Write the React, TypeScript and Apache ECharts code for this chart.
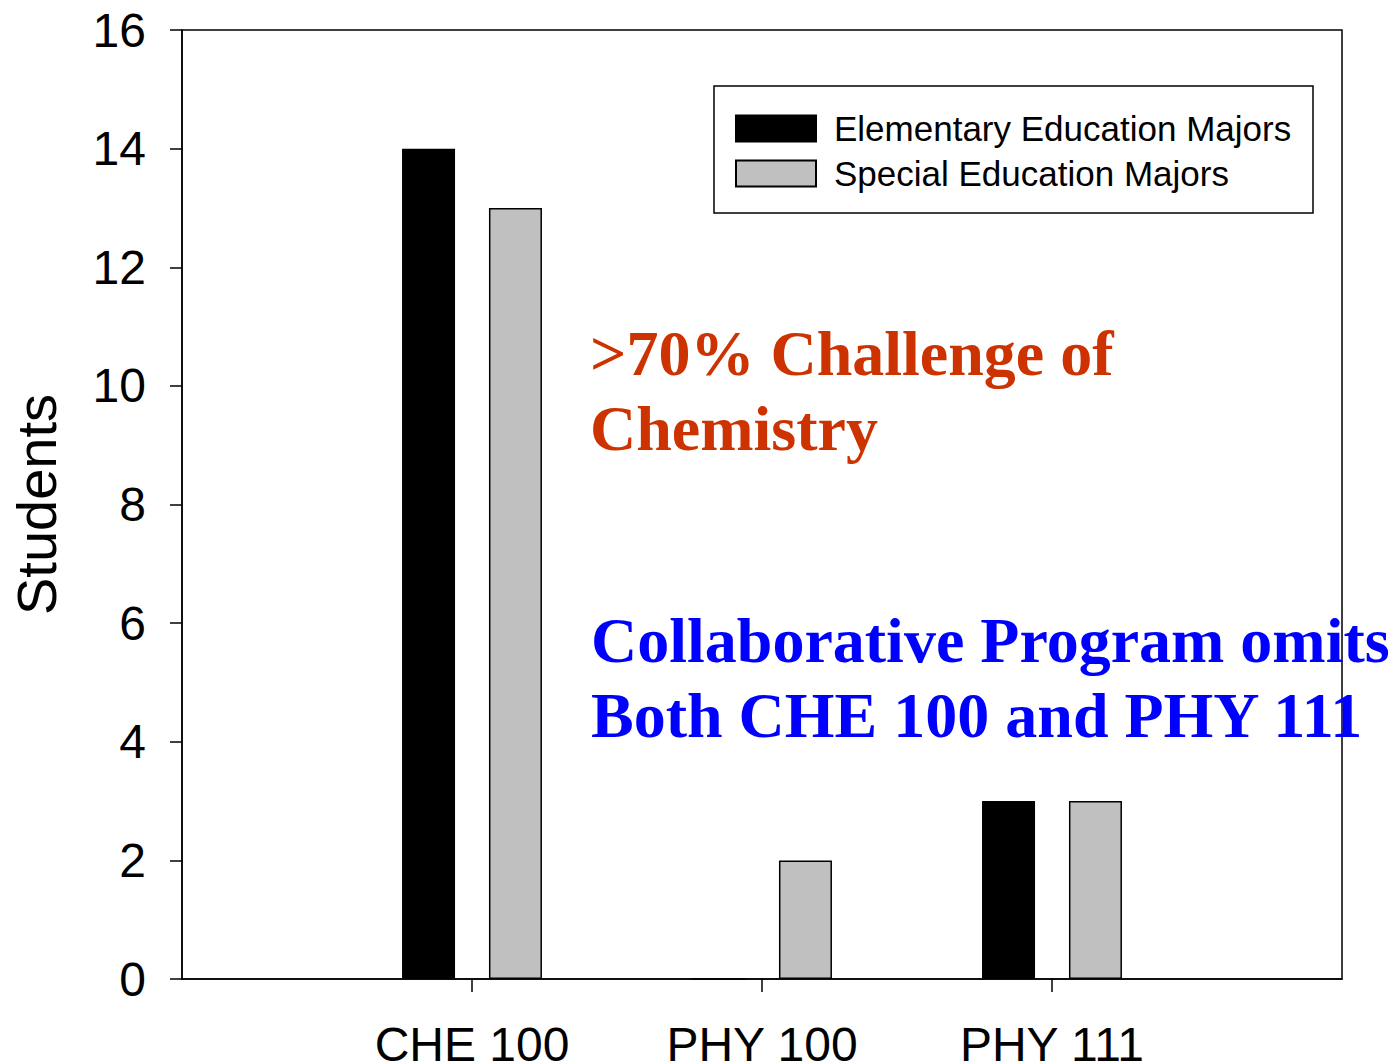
import React, { useEffect, useRef } from "react";
import * as echarts from "echarts";

const COURSES = ["CHE 100", "PHY 100", "PHY 111"];
const SERIES_NAMES = ["Elementary Education Majors", "Special Education Majors"];
const ELEMENTARY = [14, 0, 3];
const SPECIAL = [13, 2, 3];
const Y_TICKS = { min: 0, max: 16, interval: 2 };
const NOTE_RED = ">70% Challenge of\nChemistry";
const NOTE_BLUE = "Collaborative Program omits\nBoth CHE 100 and PHY 111";

const SANS = "'Liberation Sans', Arial, Helvetica, sans-serif";
const SERIF = "'Liberation Serif', 'Times New Roman', serif";

export default function App() {
  const ref = useRef<HTMLDivElement>(null);
  useEffect(() => {
    if (!ref.current) return;
    const chart = echarts.init(ref.current, null, { renderer: "svg" });
    // pad with empty categories on both ends so the three courses sit at 1/4, 2/4, 3/4
    const cats = ["", ...COURSES, ""];
    const pad = (arr: number[]) => [null, ...arr, null];
    chart.setOption({
      animation: false,
      backgroundColor: "#fff",
      grid: {
        left: 182,
        top: 30,
        right: 53,
        bottom: 85,
        outerBoundsMode: "none",
        containLabel: false,
        show: true,
        borderColor: "#000",
        borderWidth: 1.5,
        backgroundColor: "transparent",
      },
      legend: {
        orient: "vertical",
        left: 735,
        top: 111,
        padding: 0,
        icon: "rect",
        itemWidth: 80,
        itemHeight: 26,
        itemGap: 10,
        data: SERIES_NAMES,
        textStyle: {
          fontFamily: SANS,
          fontSize: 35,
          color: "#000",
          padding: [0, 0, 0, 13],
        },
      },
      xAxis: {
        type: "category",
        data: cats,
        boundaryGap: false,
        axisLine: { show: true, lineStyle: { color: "#000", width: 1.5 } },
        axisTick: {
          show: true,
          length: 13,
          inside: false,
          interval: (index: number) => index > 0 && index < cats.length - 1,
          lineStyle: { color: "#000", width: 1.5 },
        },
        axisLabel: {
          interval: 0,
          margin: 41,
          fontFamily: SANS,
          fontSize: 48,
          color: "#000",
        },
        splitLine: { show: false },
      },
      yAxis: {
        type: "value",
        min: Y_TICKS.min,
        max: Y_TICKS.max,
        interval: Y_TICKS.interval,
        name: "Students",
        nameLocation: "middle",
        nameRotate: 90,
        nameGap: 118,
        nameTextStyle: { fontFamily: SANS, fontSize: 56, color: "#000" },
        axisLine: { show: true, lineStyle: { color: "#000", width: 1.5 } },
        axisTick: { show: true, length: 12, inside: false, lineStyle: { color: "#000", width: 1.5 } },
        axisLabel: { margin: 36, fontFamily: SANS, fontSize: 48, color: "#000" },
        splitLine: { show: false },
      },
      series: [
        {
          name: SERIES_NAMES[0],
          type: "bar",
          data: pad(ELEMENTARY),
          barWidth: 53,
          barGap: "64%",
          itemStyle: { color: "#000", borderColor: "#000", borderWidth: 1.5 },
        },
        {
          name: SERIES_NAMES[1],
          type: "bar",
          data: pad(SPECIAL),
          barWidth: 53,
          barGap: "64%",
          itemStyle: { color: "#c0c0c0", borderColor: "#000", borderWidth: 1.5 },
        },
      ],
      graphic: [
        {
          type: "rect",
          shape: { x: 714, y: 86, width: 599, height: 127 },
          style: { fill: "none", stroke: "#000", lineWidth: 1.5 },
          silent: true,
        },
        {
          type: "text",
          x: 590,
          y: 316,
          style: {
            text: NOTE_RED,
            fill: "#cc3300",
            font: `bold 64px ${SERIF}`,
            lineHeight: 75,
            verticalAlign: "top",
            align: "left",
          },
        },
        {
          type: "text",
          x: 591,
          y: 603,
          style: {
            text: NOTE_BLUE,
            fill: "#0000ff",
            font: `bold 64px ${SERIF}`,
            lineHeight: 75,
            verticalAlign: "top",
            align: "left",
          },
        },
      ],
    });
    return () => chart.dispose();
  }, []);
  return (
    <div
      ref={ref}
      style={{ position: "absolute", left: 0, top: 0, width: 1395, height: 1064 }}
    />
  );
}
